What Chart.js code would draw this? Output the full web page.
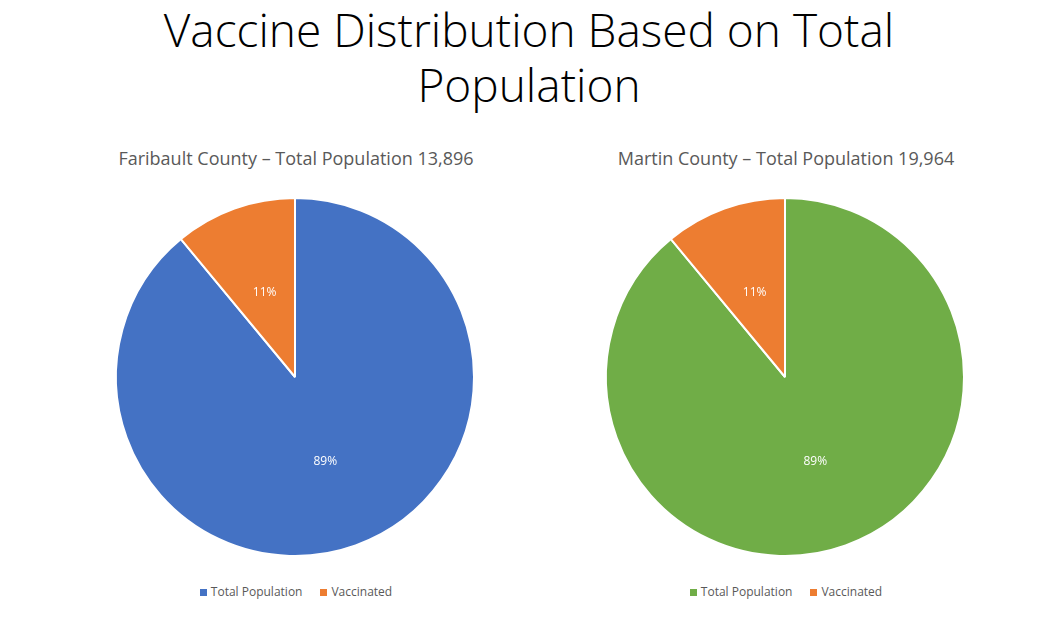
<!DOCTYPE html>
<html>
<head>
<meta charset="utf-8">
<script src="https://cdn.jsdelivr.net/npm/chart.js@4"></script>
<style>
  body { margin:0; width:1058px; height:622px; background:#fff; font-family:'Open Sans','Noto Sans',sans-serif; position:relative; overflow:hidden; }
  .title { position:absolute; top:2px; left:0; width:1058px; text-align:center; font-size:46px; line-height:55px; color:#000; font-weight:300; }
  .sub { position:absolute; top:146px; width:490px; text-align:center; font-size:18px; color:#595959; }
  .box { position:absolute; top:187px; width:380px; height:380px; }
  .leg { position:absolute; top:583px; width:490px; text-align:center; font-size:12px; color:#595959; }
  .leg span.sw { display:inline-block; width:7px; height:7px; margin-right:4px; }
  .leg span.it { margin:0 9px; }
</style>
</head>
<body>
<div class="title">Vaccine Distribution Based on Total<br>Population</div>
<div class="sub" style="left:51px">Faribault County – Total Population 13,896</div>
<div class="sub" style="left:541px">Martin County – Total Population 19,964</div>
<div class="box" style="left:105px"><canvas id="c1"></canvas></div>
<div class="box" style="left:595px"><canvas id="c2"></canvas></div>
<div class="leg" style="left:51px"><span class="it"><span class="sw" style="background:#4472C4"></span>Total Population</span><span class="it"><span class="sw" style="background:#ED7D31"></span>Vaccinated</span></div>
<div class="leg" style="left:541px"><span class="it"><span class="sw" style="background:#70AD47"></span>Total Population</span><span class="it"><span class="sw" style="background:#ED7D31"></span>Vaccinated</span></div>
<script>
const labels = ['Total Population', 'Vaccinated'];
const faribaultPct = [89, 11];
const martinPct = [89, 11];

const pctLabels = {
    id: 'pctLabels',
    afterDatasetsDraw(chart) {
        const ctx = chart.ctx;
        const meta = chart.getDatasetMeta(0);
        ctx.save();
        ctx.fillStyle = '#fff';
        ctx.font = '12px "Open Sans", sans-serif';
        ctx.textAlign = 'center';
        ctx.textBaseline = 'middle';
        meta.data.forEach((arc, i) => {
            const p = arc.tooltipPosition();
            ctx.fillText(chart.data.datasets[0].data[i] + '%', p.x, p.y);
        });
        ctx.restore();
    }
};

function makePie(id, data, color) {
    new Chart(document.getElementById(id), {
        type: 'pie',
        data: {
            labels,
            datasets: [{ data, backgroundColor: [color, '#ED7D31'], borderColor: '#fff', borderWidth: 2 }]
        },
        options: {
            responsive: true,
            maintainAspectRatio: false,
            animation: false,
            layout: { padding: 10 },
            plugins: { legend: { display: false }, tooltip: { enabled: false } }
        },
        plugins: [pctLabels]
    });
}

makePie('c1', faribaultPct, '#4472C4');
makePie('c2', martinPct, '#70AD47');
</script>
</body>
</html>
